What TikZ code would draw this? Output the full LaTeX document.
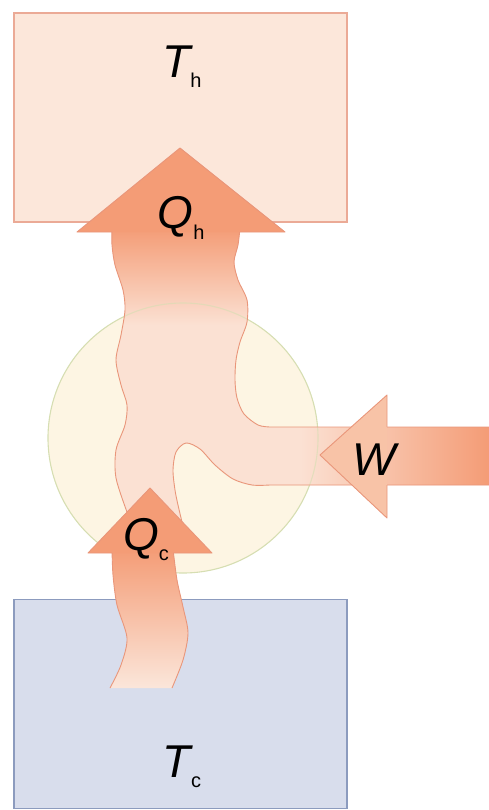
\documentclass[tikz,border=0pt]{standalone}
\usepackage{fontspec}
\setmainfont{Liberation Sans}
\usetikzlibrary{positioning}
\definecolor{hotfill}{HTML}{FCE7DA}
\definecolor{hotedge}{HTML}{EBAA96}
\definecolor{coldfill}{HTML}{D8DDEC}
\definecolor{coldedge}{HTML}{8C9BBE}
\definecolor{enginefill}{HTML}{FDF5E3}
\definecolor{engineedge}{HTML}{D6DEB2}
\definecolor{heat}{HTML}{F49C76}
\definecolor{heatpale}{HTML}{F8C3A7}
\definecolor{flowlight}{HTML}{FBE1D3}
\definecolor{flowfade}{HTML}{FBE6DA}
\definecolor{flowedge}{HTML}{E9967A}
\newcommand{\lowsub}[1]{\raisebox{-10pt}{\upshape\fontsize{20}{20}\selectfont #1}}

\begin{document}
\begin{tikzpicture}[
    x=1pt, y=-1pt,
    reservoir/.style={
        draw, rectangle, line width=1.2pt,
        minimum width=333pt, minimum height=209pt
    },
    engine/.style={
        draw=engineedge, circle, line width=1.1pt,
        minimum size=270pt
    },
    flowline/.style={draw=flowedge, line width=0.9pt, line join=round},
    quantity/.style={font=\fontsize{46}{46}\selectfont\itshape, inner sep=0pt, anchor=base}
]
\useasboundingbox (0,0) rectangle (489,810);

% reservoirs and engine
\node[reservoir, fill=hotfill, draw=hotedge]   (hot)    at (180.5,117.5) {};
\node[reservoir, fill=coldfill, draw=coldedge] (cold)   at (180.5,704) {};
\node[engine, fill=enginefill]                 (engine) at (183,438) {};

% heat and work flowing through the engine
\def\flowbody{plot[smooth] coordinates {(112,228) (112,245) (115,265) (123,290) (125,310)
    (121,335) (116,360) (121,385) (127,405) (125,425) (116,450) (116,478) (127,512)}
  -- (150,520)
  -- plot[smooth] coordinates {(182,522) (178,505) (175,490) (173,470) (176,452) (186,443)
    (200,449) (215,465) (233,479) (252,485) (270,485)}
  -- (495,485) -- (495,427)
  -- plot[smooth] coordinates {(270,427) (258,425) (244,414) (237,398) (235,380) (236,360)
    (240,342) (247,322) (247,300) (238,280) (234,262) (238,245) (240,228)}
  -- cycle}
\begin{scope}
  \clip \flowbody;
  \fill[flowlight] (0,200) rectangle (489,560);
  \shade[top color=heat, bottom color=flowlight] (100,228) rectangle (260,325);
  \shade[left color=flowlight, right color=heat] (300,420) rectangle (489,490);
  \draw[engineedge, line width=1.1pt, opacity=0.6] (engine.center) circle[radius=135pt];
\end{scope}
\draw[flowline] \flowbody;

% cold side shaft, open at the bottom
\shade[top color=heat, bottom color=flowfade, flowline]
  plot[smooth] coordinates {(110,688) (121,665) (127,638) (117,605) (113,575) (112,549)}
  -- plot[smooth] coordinates {(173,549) (177,580) (183,607) (188,633) (183,660) (172,688)};

% arrow heads
\fill[heat, flowline] (112,232) -- (77,232) -- (180,148) -- (285,232) -- (240,232);
\fill[heatpale, flowline] (387,427) -- (387,395) -- (320,455) -- (387,518) -- (387,485);
\fill[heat, flowline] (112,553) -- (88,553) -- (150,488) -- (212,553) -- (173,553);

% labels
\node[quantity] (Th) at (182,78)  {T\lowsub{h}};
\node[quantity] (Qh) at (181,229) {Q\lowsub{h}};
\node[quantity] (W)  at (374,475) {W};
\node[quantity] (Qc) at (146,550) {Q\lowsub{c}};
\node[quantity] (Tc) at (182,777) {T\lowsub{c}};
\end{tikzpicture}
\end{document}
